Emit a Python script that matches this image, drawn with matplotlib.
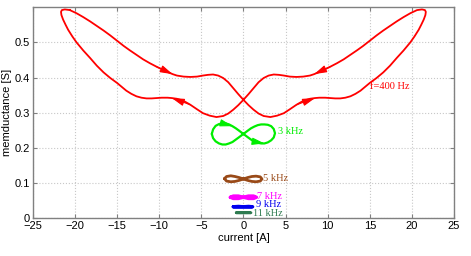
import numpy as np
import matplotlib
matplotlib.use("Agg")
import matplotlib.pyplot as plt

plt.rcParams['font.family'] = ['Liberation Sans', 'DejaVu Sans']

# f = 400 Hz loop (current [A], memductance [S])
# starts at the top of the left tip, runs right along the upper-left branch
i_400 = [-20.6, -19.8, -19.0, -18.2, -17.4, -16.6, -15.8, -15.0, -14.2, -13.5, -12.7, -11.9, -11.1, -10.3,
         -9.6, -9.0, -8.4, -7.9, -7.1, -6.3, -5.5, -4.8, -4.2, -3.6, -3.0, -2.4, -1.8, -1.2, -0.6, 0.0,
         0.6, 1.2, 1.8, 2.4, 3.2, 4.0, 4.8, 5.5, 6.3, 7.1, 7.9, 8.5, 9.0, 9.7, 10.3, 10.9, 11.5, 12.1,
         12.7, 13.3, 13.9, 14.4, 15.0, 15.8, 16.6, 17.4, 18.2, 19.0, 19.8, 20.3, 20.8, 21.1, 21.4, 21.6,
         21.65, 21.55, 21.2,
         20.6, 19.8, 19.0, 18.2, 17.4, 16.6, 15.8, 15.0, 14.2, 13.5, 12.7, 11.9, 11.1, 10.3,
         9.6, 9.0, 8.4, 7.9, 7.1, 6.3, 5.5, 4.8, 4.2, 3.6, 3.0, 2.4, 1.8, 1.2, 0.6, 0.0,
         -0.6, -1.2, -1.8, -2.4, -3.2, -4.0, -4.8, -5.5, -6.3, -7.1, -7.9, -8.5, -9.0, -9.7, -10.3, -10.9,
         -11.5, -12.1, -12.7, -13.3, -13.9, -14.4, -15.0, -15.8, -16.6, -17.4, -18.2, -19.0, -19.8, -20.3,
         -20.8, -21.1, -21.4, -21.6, -21.65, -21.55, -21.2, -20.6]
g_400 = [0.592, 0.583, 0.572, 0.560, 0.547, 0.534, 0.520, 0.505, 0.490, 0.478, 0.465, 0.452, 0.441, 0.431,
         0.423, 0.416, 0.410, 0.406, 0.403, 0.402, 0.403, 0.406, 0.408, 0.409, 0.406, 0.399, 0.387, 0.370,
         0.353, 0.337, 0.322, 0.309, 0.298, 0.291, 0.288, 0.292, 0.299, 0.310, 0.323, 0.334, 0.340, 0.342,
         0.343, 0.343, 0.342, 0.341, 0.341, 0.343, 0.347, 0.354, 0.363, 0.373, 0.385, 0.399, 0.415, 0.434,
         0.456, 0.477, 0.500, 0.517, 0.536, 0.550, 0.565, 0.578, 0.587, 0.592, 0.594,
         0.592, 0.583, 0.572, 0.560, 0.547, 0.534, 0.520, 0.505, 0.490, 0.478, 0.465, 0.452, 0.441, 0.431,
         0.423, 0.416, 0.410, 0.406, 0.403, 0.402, 0.403, 0.406, 0.408, 0.409, 0.406, 0.399, 0.387, 0.370,
         0.353, 0.337, 0.322, 0.309, 0.298, 0.291, 0.288, 0.292, 0.299, 0.310, 0.323, 0.334, 0.340, 0.342,
         0.343, 0.343, 0.342, 0.341, 0.341, 0.343, 0.347, 0.354, 0.363, 0.373, 0.385, 0.399, 0.415, 0.434,
         0.456, 0.477, 0.500, 0.517, 0.536, 0.550, 0.565, 0.578, 0.587, 0.592, 0.594, 0.592]

# 3 kHz
i_3k = [-3.75, -3.6, -3.3, -2.9, -2.5, -2.1, -1.7, -1.3, -0.9, -0.5, 0.0, 0.5, 0.9, 1.3, 1.7, 2.1, 2.5, 2.9,
        3.3, 3.6, 3.75, 3.6, 3.3, 2.9, 2.5, 2.1, 1.7, 1.3, 0.9, 0.5, 0.0, -0.5, -0.9, -1.3, -1.7, -2.1,
        -2.5, -2.9, -3.3, -3.6, -3.75]
g_3k = [0.240, 0.253, 0.263, 0.268, 0.270, 0.270, 0.267, 0.262, 0.256, 0.249, 0.240, 0.231, 0.224, 0.218,
        0.215, 0.213, 0.213, 0.216, 0.222, 0.230, 0.242, 0.254, 0.262, 0.266, 0.267, 0.267, 0.265, 0.261,
        0.256, 0.249, 0.240, 0.231, 0.224, 0.217, 0.213, 0.210, 0.210, 0.213, 0.219, 0.228, 0.240]

# 5 kHz
i_5k = [-2.25, -2.0, -1.5, -1.0, -0.5, 0.0, 0.5, 1.0, 1.5, 2.0, 2.2, 2.0, 1.5, 1.0, 0.5, 0.0, -0.5, -1.0,
        -1.5, -2.0, -2.25]
g_5k = [0.113, 0.119, 0.121, 0.119, 0.116, 0.112, 0.108, 0.105, 0.104, 0.106, 0.112, 0.118, 0.120, 0.119,
        0.116, 0.112, 0.108, 0.105, 0.104, 0.106, 0.113]

# 7 kHz
i_7k = [-1.55, -1.2, -0.6, 0.0, 0.6, 1.2, 1.55, 1.2, 0.6, 0.0, -0.6, -1.2, -1.55]
g_7k = [0.060, 0.0635, 0.0635, 0.060, 0.0565, 0.0565, 0.060, 0.0635, 0.0635, 0.060, 0.0565, 0.0565, 0.060]

# 9 kHz
i_9k = [-1.2, -0.6, 0.0, 0.6, 1.1, 0.6, 0.0, -0.6, -1.2]
g_9k = [0.033, 0.034, 0.033, 0.032, 0.033, 0.034, 0.033, 0.032, 0.033]

# 11 kHz
i_11k = [-0.85, -0.4, 0.0, 0.4, 0.9, 0.4, 0.0, -0.4, -0.85]
g_11k = [0.016, 0.0165, 0.016, 0.0155, 0.016, 0.0165, 0.016, 0.0155, 0.016]

curves = [
    (i_400, g_400, '#ff0000', 1.3, 'f=400 Hz', (15.0, 0.375)),
    (i_3k, g_3k, '#00ee00', 1.6, '3 kHz', (4.05, 0.247)),
    (i_5k, g_5k, '#994a18', 2.0, '5 kHz', (2.35, 0.112)),
    (i_7k, g_7k, '#ff00ff', 2.4, '7 kHz', (1.65, 0.063)),
    (i_9k, g_9k, '#0000ee', 2.4, '9 kHz', (1.5, 0.040)),
    (i_11k, g_11k, '#2e7b50', 2.0, '11 kHz', (1.15, 0.013)),
]

# arrow anchors on the loops (current, memductance)
arrows_400 = [(-9.0, 0.416), (9.0, 0.416), (-7.9, 0.340), (7.9, 0.340)]
arrows_3k = [(-1.7, 0.267), (2.1, 0.213)]

fig = plt.figure(figsize=(4.71, 2.56), dpi=100)
ax = fig.add_axes([0.0696, 0.147, 0.8944, 0.8245])

for x, y, c, lw, lab, pos in curves:
    ax.plot(x, y, color=c, lw=lw, solid_joinstyle='round', solid_capstyle='round')
    ax.text(pos[0], pos[1], lab, color=c, fontsize=7.5, family='Liberation Serif',
            ha='left', va='center')


def add_arrows(xs, ys, anchors, c):
    pts = np.column_stack([xs, ys])
    for x0, y0 in anchors:
        dist = (pts[:, 0] - x0) ** 2 + ((pts[:, 1] - y0) * 42) ** 2
        k = int(np.argmin(dist))
        ax.annotate('', xy=tuple(pts[k + 1]), xytext=tuple(pts[k - 2]),
                    arrowprops=dict(arrowstyle='-|>,head_length=0.75,head_width=0.22',
                                    color=c, lw=0.8, shrinkA=0, shrinkB=0))


add_arrows(i_400, g_400, arrows_400, '#ff0000')
add_arrows(i_3k, g_3k, arrows_3k, '#00ee00')

ax.set_xlim(-25, 25)
ax.set_ylim(0, 0.6)
ax.set_xticks(np.arange(-25, 26, 5))
ax.set_yticks([0, 0.1, 0.2, 0.3, 0.4, 0.5])
ax.set_yticklabels(['0', '0.1', '0.2', '0.3', '0.4', '0.5'])
ax.grid(True, color='#c8c8c8', linestyle=':', lw=0.8)
ax.tick_params(direction='in', length=3, width=0.8, top=True, right=True,
               labelsize=8, colors='#808080', labelcolor='black', pad=2)
for s in ax.spines.values():
    s.set_color('#808080')
    s.set_linewidth(1.0)
ax.set_xlabel('current [A]', fontsize=8, labelpad=1)
ax.set_ylabel('memductance [S]', fontsize=8, labelpad=2)

fig.savefig('out.png', dpi=100)
